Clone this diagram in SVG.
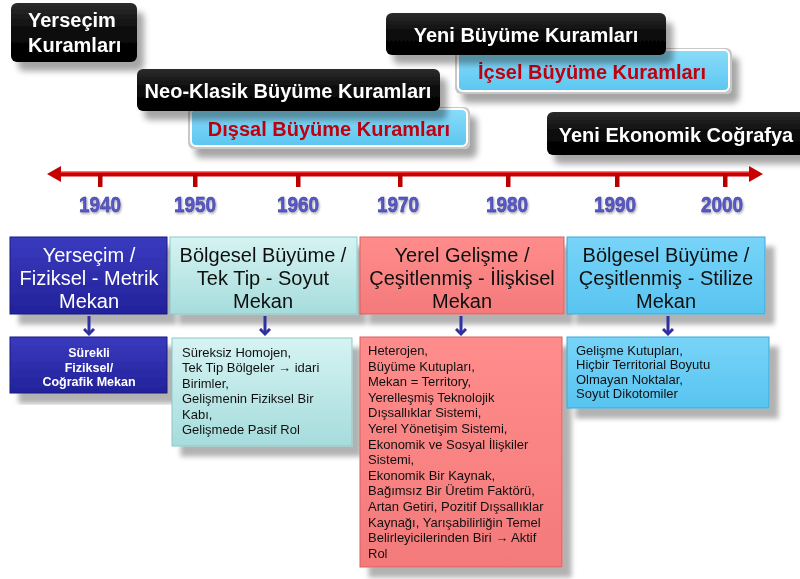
<svg xmlns="http://www.w3.org/2000/svg" width="800" height="579" viewBox="0 0 800 579">
<defs>
<filter id="sh" x="-10%" y="-20%" width="130%" height="170%"><feDropShadow dx="7" dy="9" stdDeviation="3" flood-color="#000" flood-opacity="0.35"/></filter>
<filter id="sh2" x="-10%" y="-10%" width="130%" height="130%"><feDropShadow dx="9" dy="10" stdDeviation="2.5" flood-color="#000" flood-opacity="0.3"/></filter>
<filter id="ysh" x="-20%" y="-20%" width="140%" height="160%"><feDropShadow dx="1" dy="1.5" stdDeviation="0.8" flood-color="#000" flood-opacity="0.35"/></filter>
<linearGradient id="gBlack" x1="0" y1="0" x2="0" y2="1"><stop offset="0" stop-color="#2c2c2c"/><stop offset="0.5" stop-color="#0a0a0a"/><stop offset="1" stop-color="#000"/></linearGradient>
<linearGradient id="gSky" x1="0" y1="0" x2="0" y2="1"><stop offset="0" stop-color="#8adcfa"/><stop offset="1" stop-color="#5cc6f0"/></linearGradient>
<linearGradient id="gNavy" x1="0" y1="0" x2="0" y2="1"><stop offset="0" stop-color="#3a3abf"/><stop offset="1" stop-color="#22229a"/></linearGradient>
<linearGradient id="gTeal" x1="0" y1="0" x2="0" y2="1"><stop offset="0" stop-color="#d6f3f3"/><stop offset="1" stop-color="#a6dcdc"/></linearGradient>
<linearGradient id="gPink" x1="0" y1="0" x2="0" y2="1"><stop offset="0" stop-color="#ff8c8c"/><stop offset="1" stop-color="#f47a7a"/></linearGradient>
<linearGradient id="gBlue" x1="0" y1="0" x2="0" y2="1"><stop offset="0" stop-color="#78d4f8"/><stop offset="1" stop-color="#58c4f0"/></linearGradient>
<marker id="ah" markerWidth="12" markerHeight="12" refX="6" refY="6" orient="auto" markerUnits="userSpaceOnUse"><path d="M1,1 L6,6 L1,11" fill="none" stroke="#3030a0" stroke-width="3"/></marker>
</defs>
<style>
.t{font-family:"Liberation Sans",Arial,sans-serif}
.wb{fill:#fff;font-weight:bold;font-size:20px}
.rb{fill:#c00010;font-weight:bold;font-size:20px}
.yr{fill:#5858c6;stroke:#3a3a9a;stroke-width:0.5;font-weight:bold;font-size:22px}
.mid{font-size:20px}
.sm{font-size:13px;fill:#111}
.blk{fill:url(#gBlack)}
.sky{fill:url(#gSky);stroke:#fff;stroke-width:2}
.skyo{fill:#c8c8c8}
.conn{stroke:#3030a0;stroke-width:3;fill:none}
</style>
<rect width="800" height="579" fill="#fff"/>

<!-- top theory boxes -->
<g id="n-yersecim-kuram" filter="url(#sh)">
<rect class="blk" x="11" y="3" width="126" height="59" rx="6"/>
<text class="t wb" x="28" y="27">Yerseçim</text>
<text class="t wb" x="28" y="52">Kuramları</text>
</g>
<g id="n-dissal" filter="url(#sh)">
<rect class="skyo" x="188" y="107" width="282" height="42" rx="6"/>
<rect class="sky" x="191" y="109" width="276" height="37" rx="5"/>
<text class="t rb" x="329" y="136" text-anchor="middle">Dışsal Büyüme Kuramları</text>
</g>
<g id="n-neoklasik" filter="url(#sh)">
<rect class="blk" x="137" y="69" width="303" height="42" rx="6"/>
<text class="t wb" x="288" y="98" text-anchor="middle">Neo-Klasik Büyüme Kuramları</text>
</g>
<g id="n-icsel" filter="url(#sh)">
<rect class="skyo" x="455" y="48" width="277" height="46" rx="6"/>
<rect class="sky" x="458" y="50" width="271" height="41" rx="5"/>
<text class="t rb" x="592" y="79" text-anchor="middle">İçsel Büyüme Kuramları</text>
</g>
<g id="n-yenibuyume" filter="url(#sh)">
<rect class="blk" x="386" y="13" width="280" height="42" rx="6"/>
<text class="t wb" x="526" y="42" text-anchor="middle">Yeni Büyüme Kuramları</text>
</g>
<g id="n-yeniekonomik" filter="url(#sh)">
<rect class="blk" x="547" y="112" width="260" height="43" rx="6"/>
<text class="t wb" x="676" y="142" text-anchor="middle">Yeni Ekonomik Coğrafya</text>
</g>

<!-- timeline -->
<g id="timeline">
<line x1="56" y1="174" x2="754" y2="174" stroke="#c80000" stroke-width="5"/>
<line x1="56" y1="172.5" x2="754" y2="172.5" stroke="#ee3030" stroke-width="1.2"/>
<polygon points="47,174 61,166 61,182" fill="#c80000"/>
<polygon points="763,174 749,166 749,182" fill="#c80000"/>
<g fill="#b80000">
<rect x="98" y="174" width="4.5" height="13"/>
<rect x="193" y="174" width="4.5" height="13"/>
<rect x="296" y="174" width="4.5" height="13"/>
<rect x="398" y="174" width="4.5" height="13"/>
<rect x="506" y="174" width="4.5" height="13"/>
<rect x="615" y="174" width="4.5" height="13"/>
<rect x="723" y="174" width="4.5" height="13"/>
</g>
<g class="t yr" text-anchor="middle" filter="url(#ysh)">
<text x="100" y="212" textLength="42" lengthAdjust="spacingAndGlyphs">1940</text>
<text x="195" y="212" textLength="42" lengthAdjust="spacingAndGlyphs">1950</text>
<text x="298" y="212" textLength="42" lengthAdjust="spacingAndGlyphs">1960</text>
<text x="398" y="212" textLength="42" lengthAdjust="spacingAndGlyphs">1970</text>
<text x="507" y="212" textLength="42" lengthAdjust="spacingAndGlyphs">1980</text>
<text x="615" y="212" textLength="42" lengthAdjust="spacingAndGlyphs">1990</text>
<text x="722" y="212" textLength="42" lengthAdjust="spacingAndGlyphs">2000</text>
</g>
</g>

<!-- middle boxes -->
<g id="n-m1" filter="url(#sh2)">
<rect x="10" y="237" width="157" height="77" fill="url(#gNavy)" stroke="#1a1a80" stroke-width="1"/>
<g class="t mid" fill="#fff" text-anchor="middle">
<text x="89" y="262">Yerseçim /</text>
<text x="89" y="285">Fiziksel - Metrik</text>
<text x="89" y="308">Mekan</text>
</g>
</g>
<g id="n-m2" filter="url(#sh2)">
<rect x="170" y="237" width="187" height="77" fill="url(#gTeal)" stroke="#8cc8c8" stroke-width="1"/>
<g class="t mid" fill="#111" text-anchor="middle">
<text x="263" y="262">Bölgesel Büyüme /</text>
<text x="263" y="285">Tek Tip - Soyut</text>
<text x="263" y="308">Mekan</text>
</g>
</g>
<g id="n-m3" filter="url(#sh2)">
<rect x="360" y="237" width="204" height="77" fill="url(#gPink)" stroke="#d86060" stroke-width="1"/>
<g class="t mid" fill="#111" text-anchor="middle">
<text x="462" y="262">Yerel Gelişme /</text>
<text x="462" y="285">Çeşitlenmiş - İlişkisel</text>
<text x="462" y="308">Mekan</text>
</g>
</g>
<g id="n-m4" filter="url(#sh2)">
<rect x="567" y="237" width="198" height="77" fill="url(#gBlue)" stroke="#3aa8d8" stroke-width="1"/>
<g class="t mid" fill="#111" text-anchor="middle">
<text x="666" y="262">Bölgesel Büyüme /</text>
<text x="666" y="285">Çeşitlenmiş - Stilize</text>
<text x="666" y="308">Mekan</text>
</g>
</g>

<!-- connectors -->
<g id="connectors">
<line class="conn" x1="89" y1="316" x2="89" y2="334" marker-end="url(#ah)"/>
<line class="conn" x1="265" y1="316" x2="265" y2="334" marker-end="url(#ah)"/>
<line class="conn" x1="461" y1="316" x2="461" y2="334" marker-end="url(#ah)"/>
<line class="conn" x1="668" y1="316" x2="668" y2="334" marker-end="url(#ah)"/>
</g>

<!-- bottom boxes -->
<g id="n-b1" filter="url(#sh2)">
<rect x="10" y="337" width="157" height="56" fill="url(#gNavy)" stroke="#1a1a80" stroke-width="1"/>
<g class="t" fill="#fff" font-size="12.5" font-weight="bold" text-anchor="middle">
<text x="89" y="357">Sürekli</text>
<text x="89" y="371.5">Fiziksel/</text>
<text x="89" y="386">Coğrafik Mekan</text>
</g>
</g>
<g id="n-b2" filter="url(#sh2)">
<rect x="172" y="338" width="180" height="108" fill="url(#gTeal)" stroke="#8cc8c8" stroke-width="1"/>
<g class="t sm">
<text x="182" y="356.5">Süreksiz Homojen,</text>
<text x="182" y="372">Tek Tip Bölgeler → idari</text>
<text x="182" y="387.5">Birimler,</text>
<text x="182" y="403">Gelişmenin Fiziksel Bir</text>
<text x="182" y="418.5">Kabı,</text>
<text x="182" y="434">Gelişmede Pasif Rol</text>
</g>
</g>
<g id="n-b3" filter="url(#sh2)">
<rect x="360" y="337" width="202" height="230" fill="url(#gPink)" stroke="#d86060" stroke-width="1"/>
<g class="t sm" font-size="13.3">
<text x="368" y="355">Heterojen,</text>
<text x="368" y="370.6">Büyüme Kutupları,</text>
<text x="368" y="386.2">Mekan = Territory,</text>
<text x="368" y="401.8">Yerelleşmiş Teknolojik</text>
<text x="368" y="417.4">Dışsallıklar Sistemi,</text>
<text x="368" y="433">Yerel Yönetişim Sistemi,</text>
<text x="368" y="448.6">Ekonomik ve Sosyal İlişkiler</text>
<text x="368" y="464.2">Sistemi,</text>
<text x="368" y="479.8">Ekonomik Bir Kaynak,</text>
<text x="368" y="495.4">Bağımsız Bir Üretim Faktörü,</text>
<text x="368" y="511">Artan Getiri, Pozitif Dışsallıklar</text>
<text x="368" y="526.6">Kaynağı, Yarışabilirliğin Temel</text>
<text x="368" y="542.2">Belirleyicilerinden Biri → Aktif</text>
<text x="368" y="557.8">Rol</text>
</g>
</g>
<g id="n-b4" filter="url(#sh2)">
<rect x="567" y="337" width="202" height="71" fill="url(#gBlue)" stroke="#3aa8d8" stroke-width="1"/>
<g class="t sm">
<text x="576" y="354.5">Gelişme Kutupları,</text>
<text x="576" y="369">Hiçbir Territorial Boyutu</text>
<text x="576" y="383.5">Olmayan Noktalar,</text>
<text x="576" y="398">Soyut Dikotomiler</text>
</g>
</g>
</svg>
